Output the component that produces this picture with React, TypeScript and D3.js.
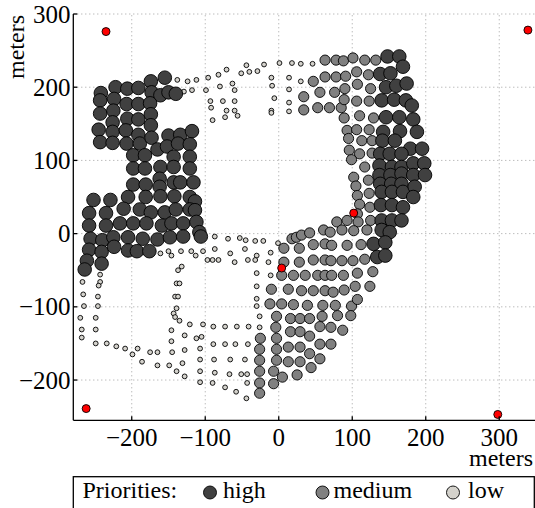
import React from "react";
import * as d3 from "d3";

const xTicks = [-200, -100, 0, 100, 200, 300];
const yTicks = [-200, -100, 0, 100, 200, 300];
const xTickLabels = ["\u2212200", "\u2212100", "0", "100", "200", "300"];
const yTickLabels = ["\u2212200", "\u2212100", "0", "100", "200", "300"];
const axisUnit = "meters";
const legendTitle = "Priorities:";
const priorityNames = ["high", "medium", "low"];
const priorityColors = ["#404040", "#808080", "#d4d2cc"];

const anchorPts: [number, number][] = [
  [-235, 276], [339, 278], [-262, -239], [298, -247], [4, -47], [102, 28],
];

const highPts: [number, number][] = [
  [-155, 213], [-174, 208], [-222, 200], [-206, 198], [-191, 199], [-242, 192], [-243, 182], [-224, 184],
  [-173, 193], [-161, 189], [-150, 193], [-140, 191], [-207, 177], [-191, 177], [-175, 178], [-243, 164],
  [-225, 168], [-206, 157], [-191, 156], [-174, 163], [-245, 142], [-226, 152], [-226, 139], [-208, 141],
  [-191, 135], [-174, 148], [-243, 125], [-226, 124], [-207, 123], [-189, 123], [-173, 131], [-165, 115],
  [-150, 134], [-134, 135], [-118, 140], [-198, 107], [-182, 107], [-152, 119], [-137, 123], [-121, 122],
  [-161, 91], [-143, 105], [-121, 105], [-198, 89], [-182, 89], [-143, 91], [-121, 89],
  [-198, 67], [-181, 67], [-162, 75], [-162, 64], [-143, 70], [-134, 70], [-116, 70],
  [-252, 46], [-229, 46], [-205, 50], [-181, 50], [-161, 51], [-142, 51], [-121, 50], [-114, 44],
  [-258, 28], [-235, 28], [-211, 34], [-189, 33], [-174, 29], [-155, 29], [-140, 33], [-121, 33], [-114, 32],
  [-258, 11], [-235, 11], [-216, 14], [-198, 14], [-180, 14], [-159, 11], [-146, 14], [-130, 14], [-112, 16],
  [-256, -7], [-240, -9], [-225, -5], [-205, -5], [-185, -7], [-165, -8], [-148, -5], [-130, -4], [-108, 2], [-106, -4],
  [-258, -22], [-241, -25], [-224, -18], [-205, -23], [-193, -24], [-176, -24],
  [-261, -37], [-241, -41], [-264, -49],
  [148, 242], [164, 242], [138, 218], [152, 219], [169, 228], [146, 200], [160, 202], [174, 205],
  [140, 182], [157, 183], [173, 182], [181, 175], [146, 159], [164, 159], [183, 156], [142, 139],
  [165, 140], [188, 139], [141, 127], [158, 127], [179, 116], [195, 116], [138, 109], [151, 109],
  [167, 109], [137, 93], [154, 91], [167, 91], [183, 96], [198, 96], [137, 80], [152, 80], [167, 82],
  [183, 80], [199, 80], [138, 68], [153, 68], [167, 68], [140, 57], [154, 57], [169, 57], [185, 64],
  [139, 39], [154, 39], [169, 36], [183, 50], [140, 18], [154, 18], [167, 18], [140, 5], [151, 2],
  [129, -14], [145, -12], [134, -32], [145, -30],
];

const mediumPts: [number, number][] = [
  [63, 237], [78, 237], [88, 236], [101, 240], [117, 237], [132, 237],
  [47, 208], [63, 214], [78, 214], [91, 215], [106, 221], [122, 217],
  [34, 187], [56, 193], [76, 193], [90, 198], [107, 204], [125, 198],
  [34, 169], [53, 172], [69, 172], [85, 172], [106, 181], [123, 181], [89, 183],
  [89, 158], [110, 161], [129, 158], [93, 141], [106, 142], [123, 142],
  [95, 130], [113, 127], [127, 127], [96, 114], [110, 109], [127, 110],
  [99, 101], [117, 91], [102, 77], [122, 73], [105, 65], [123, 55],
  [107, 52], [110, 40], [124, 36], [107, 27],
  [79, 16], [93, 18], [108, 16], [125, 18],
  [18, -7], [24, -5], [31, -2], [42, 1], [61, 5], [70, 2], [86, 5], [102, 4], [120, 5],
  [7, -20], [28, -20], [47, -15], [63, -14], [72, -16], [93, -16], [112, -15],
  [7, -39], [28, -39], [47, -36], [63, -36], [71, -37], [86, -37], [101, -37], [117, -35],
  [4, -57], [20, -57], [36, -57], [53, -57], [63, -57], [72, -57], [88, -57], [107, -54], [128, -52],
  [-10, -76], [13, -76], [31, -78], [47, -78], [63, -78], [74, -80], [89, -77], [104, -72], [124, -72],
  [-12, -96], [4, -96], [20, -97], [39, -98], [60, -98], [77, -98], [99, -99], [107, -90],
  [-3, -113], [16, -116], [29, -116], [42, -116], [59, -113], [80, -112], [98, -112],
  [-4, -128], [16, -134], [29, -134], [42, -140], [56, -127], [71, -128], [87, -132],
  [-25, -143], [-3, -143], [13, -155], [29, -155], [42, -164], [56, -151], [71, -151],
  [-26, -158], [-3, -158], [13, -175], [29, -175], [56, -171], [44, -183],
  [-26, -173], [-3, -173], [-26, -188], [-7, -188], [5, -196], [25, -193],
  [-26, -204], [-7, -205], [-26, -218],
];

const lowPts: [number, number][] = [
  [-138, 210], [-124, 208], [-112, 210], [-96, 213], [-82, 217], [-71, 224], [-51, 219], [-40, 221],
  [-44, 230], [-29, 222], [-20, 231], [1, 233], [18, 233], [30, 232], [46, 232],
  [-129, 194], [-118, 196], [-99, 196], [-80, 201], [-63, 205], [-60, 196],
  [-10, 213], [-9, 202], [14, 213], [14, 197], [30, 208],
  [-93, 181], [-76, 181], [-60, 181], [-6, 185], [14, 179],
  [-92, 172], [-71, 168], [-60, 168], [-10, 168], [14, 167], [-10, 165],
  [-90, 155], [-73, 159], [-56, 161],
  [-87, -4], [-69, -7], [-53, -6], [-45, -9], [-32, -10], [-21, -10], [-1, -13],
  [-161, -27], [-150, -24], [-146, -30], [-133, -24], [-119, -24], [-113, -30], [-103, -24], [-87, -21],
  [-66, -27], [-46, -21], [-30, -30], [-11, -26],
  [-97, -36], [-90, -36], [-82, -36], [-60, -39], [-42, -36], [-32, -36], [-14, -39],
  [-132, -45], [-137, -50], [-30, -54], [-11, -57],
  [-139, -68], [-135, -68], [-30, -72],
  [-141, -86], [-137, -86], [-30, -89], [-30, -99],
  [-139, -102], [-143, -109], [-141, -114], [-135, -119], [-121, -124], [-26, -113],
  [-103, -124], [-89, -127], [-73, -127], [-57, -127], [-41, -127], [-26, -128],
  [-146, -132], [-128, -139], [-112, -143], [-105, -141],
  [-146, -147], [-89, -151], [-73, -151], [-59, -151], [-42, -151],
  [-267, -66], [-243, -56], [-243, -66], [-245, -71],
  [-266, -83], [-246, -86], [-265, -99], [-246, -99],
  [-270, -115], [-249, -115], [-268, -131], [-249, -131],
  [-268, -142], [-249, -150], [-234, -150], [-221, -154], [-209, -157], [-192, -157],
  [-199, -165], [-175, -162], [-165, -162], [-186, -175], [-165, -180], [-149, -180], [-145, -162],
  [-131, -177], [-139, -188], [-128, -195], [-128, -159],
  [-107, -157], [-107, -172], [-107, -188], [-107, -203],
  [-88, -172], [-66, -172], [-46, -172],
  [-87, -190], [-67, -192], [-51, -192], [-43, -192],
  [-90, -204], [-73, -210], [-58, -216], [-43, -204], [-44, -225],
];

const W = 535;
const H = 508;
const FONT = "Liberation Serif";

export default function App() {
  const x = d3.scaleLinear().domain([-279.5, 350]).range([73.3, 536]);
  const y = d3.scaleLinear().domain([-255, 300]).range([420.3, 14]);
  const [x0, x1] = x.range();
  const [yb, yt] = y.range();

  const circles = (pts: [number, number][], r: number, fill: string) =>
    pts.map((p, i) => (
      <circle key={i} cx={x(p[0])} cy={y(p[1])} r={r} fill={fill} stroke="#000" strokeWidth={0.9} />
    ));

  const legendY = 491.5;
  const legendItems = [
    { cx: 210, tx: 223, label: priorityNames[0], color: priorityColors[0] },
    { cx: 322.5, tx: 333.5, label: priorityNames[1], color: priorityColors[1] },
    { cx: 453, tx: 468, label: priorityNames[2], color: priorityColors[2] },
  ];

  return (
    <svg width={W} height={H} style={{ position: "absolute", left: 0, top: 0, fontFamily: FONT }}>
      <rect width={W} height={H} fill="#fff" />
      <g stroke="#a0a0a0" strokeWidth={1} strokeDasharray="1,3">
        {xTicks.map((t) => (
          <line key={"gx" + t} x1={x(t)} x2={x(t)} y1={yb} y2={yt} />
        ))}
        {yTicks.map((t) => (
          <line key={"gy" + t} x1={x0} x2={x1} y1={y(t)} y2={y(t)} />
        ))}
      </g>
      <g>{circles(lowPts, 2.4, priorityColors[2])}</g>
      <g>{circles(mediumPts, 5.1, priorityColors[1])}</g>
      <g>{circles(highPts, 6.8, priorityColors[0])}</g>
      <g>{circles(anchorPts, 4, "#ff0000")}</g>
      <g stroke="#000" strokeWidth={1.3}>
        <line x1={x0} x2={x0} y1={yt} y2={yb} />
        <line x1={x0} x2={x1} y1={yb} y2={yb} />
        {xTicks.map((t) => (
          <line key={"tx" + t} x1={x(t)} x2={x(t)} y1={yb} y2={yb - 4} />
        ))}
        {yTicks.map((t) => (
          <line key={"ty" + t} x1={x0} x2={x0 + 4} y1={y(t)} y2={y(t)} />
        ))}
      </g>
      <g fontSize={25} fill="#000" style={{ fontFamily: FONT }}>
        {xTicks.map((t, i) => (
          <text key={"lx" + t} x={x(t)} y={446} textAnchor="middle">
            {xTickLabels[i]}
          </text>
        ))}
        {yTicks.map((t, i) => (
          <text key={"ly" + t} x={70.5} y={y(t) + 8.5} textAnchor="end">
            {yTickLabels[i]}
          </text>
        ))}
      </g>
      <g fontSize={24} fill="#000" style={{ fontFamily: FONT }}>
        <text x={501} y={466} textAnchor="middle">{axisUnit}</text>
        <text transform="translate(24,47) rotate(-90)" textAnchor="middle">{axisUnit}</text>
      </g>
      <rect x={73.3} y={476.7} width={461} height={40} fill="#fff" stroke="#000" strokeWidth={1.3} />
      <g fontSize={24} fill="#000" style={{ fontFamily: FONT }}>
        <text x={82.5} y={497.5}>{legendTitle}</text>
        {legendItems.map((it) => (
          <g key={it.label}>
            <circle cx={it.cx} cy={legendY + 1} r={6.5} fill={it.color} stroke="#000" strokeWidth={0.9} />
            <text x={it.tx} y={497.5}>{it.label}</text>
          </g>
        ))}
      </g>
    </svg>
  );
}
